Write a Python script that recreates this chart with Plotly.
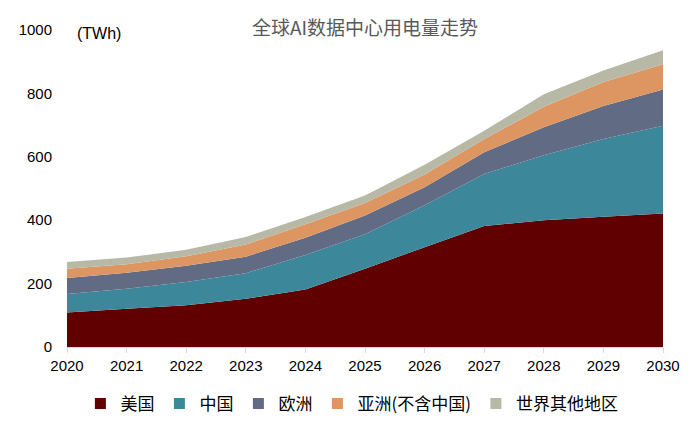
import plotly.graph_objects as go

years = [2020, 2021, 2022, 2023, 2024, 2025, 2026, 2027, 2028, 2029, 2030]
us = [109, 121, 132, 152, 181, 247, 315, 382, 400, 411, 421]
china = [58, 63, 73, 81, 109, 109, 132, 164, 205, 245, 277]
europe = [51, 50, 51, 52, 55, 59, 57, 68, 88, 104, 114]
asia_ex_china = [29, 27, 30, 38, 42, 39, 40, 42, 65, 76, 80]
rest_world = [21, 21, 21, 24, 23, 24, 31, 26, 39, 36, 44]

names = ["美国", "中国", "欧洲", "亚洲(不含中国)", "世界其他地区"]
colors = ["#600000", "#3c8799", "#626b84", "#dd9661", "#b8b8a6"]
series = [us, china, europe, asia_ex_china, rest_world]
y_ticks = [0, 200, 400, 600, 800, 1000]

FONT = "Liberation Sans, Arial, Noto Sans CJK SC, sans-serif"

fig = go.Figure()
for name, color, vals in zip(names, colors, series):
    fig.add_trace(go.Scatter(
        x=years, y=vals, name=name, stackgroup="one", mode="none",
        fillcolor=color, line=dict(width=0), showlegend=False,
        hoverinfo="x+y+name",
    ))
for name, color in zip(names, colors):
    fig.add_trace(go.Scatter(
        x=[None], y=[None], name=name, mode="markers",
        marker=dict(symbol="square", size=11, color=color),
    ))

fig.update_layout(
    width=700, height=426,
    margin=dict(l=59, r=45, t=22, b=87, autoexpand=False),
    paper_bgcolor="white", plot_bgcolor="white",
    font=dict(family=FONT, size=15, color="#000000"),
    showlegend=True,
    legend=dict(orientation="h", x=0.478, xanchor="center", y=-0.18, yanchor="middle",
                traceorder="normal",
                font=dict(size=17, family="Noto Sans CJK SC, Liberation Sans, sans-serif"),
                itemwidth=30, tracegroupgap=0, bgcolor="rgba(0,0,0,0)"),
    xaxis=dict(range=[2020, 2030], tickmode="array", tickvals=years,
               ticktext=[str(y) for y in years],
               showgrid=False, zeroline=False, showline=True, linecolor="#d9d9d9",
               linewidth=1, ticks="outside", ticklen=5, tickcolor="#d9d9d9",
               tickfont=dict(size=15)),
    yaxis=dict(range=[0, 1000], tickvals=y_ticks, showgrid=False, zeroline=False,
               showline=False, ticks="", ticklabelstandoff=14,
               tickfont=dict(size=15)),
    annotations=[
        dict(text="全球AI数据中心用电量走势", xref="paper", yref="paper",
             x=0.5, y=1.012, xanchor="center", yanchor="middle", showarrow=False,
             font=dict(size=19, color="#595959", family="Noto Sans CJK SC, sans-serif")),
        dict(text="(TWh)", xref="paper", yref="paper", x=0.013, y=0.988,
             xanchor="left", yanchor="middle", showarrow=False,
             font=dict(size=16, color="#000000")),
    ],
)

fig.write_html("out.html")
